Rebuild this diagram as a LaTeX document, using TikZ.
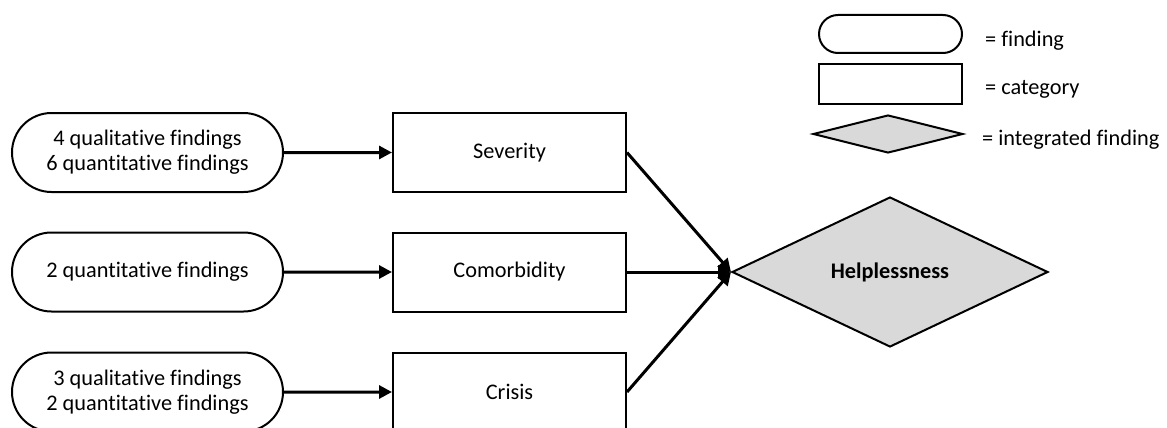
\documentclass[tikz,border=0pt]{standalone}
\usepackage{fontspec}
\setmainfont{Carlito}[Ligatures=NoCommon]
\usetikzlibrary{shapes.misc,shapes.geometric,arrows.meta}
\definecolor{intgrey}{HTML}{D9D9D9}
\begin{document}
\begin{tikzpicture}[x=1pt,y=-1pt,
  every node/.style={font=\fontsize{22.3}{25}\selectfont},
  finding/.style={draw,line width=2pt,rounded rectangle,minimum width=271pt,
    minimum height=79pt,inner sep=0pt,align=center},
  category/.style={draw,line width=2pt,rectangle,minimum width=233pt,
    minimum height=79pt,inner sep=0pt},
  integrated/.style={draw,line width=2pt,diamond,fill=intgrey,inner sep=0pt,
    aspect=2.1},
  flow/.style={line width=3pt,-{Triangle[length=13pt,width=13pt]}},
  legendtext/.style={anchor=base west,inner sep=0pt}
]
\useasboundingbox (0,0) rectangle (1167,428);

% findings
\node[finding] (f1) at (147.5,152.5) {4 qualitative findings\\6 quantitative findings};
\node[finding] (f2) at (147.5,272) {2 quantitative findings};
\node[finding] (f3) at (147.5,392) {3 qualitative findings\\2 quantitative findings};

% categories
\node[category] (c1) at (509.5,152.5) {Severity};
\node[category] (c2) at (509.5,272) {Comorbidity};
\node[category] (c3) at (509.5,392) {Crisis};

% integrated finding
\node[integrated,minimum width=316pt,minimum height=150pt] (h) at (890,272)
  {\bfseries Helplessness};

% connectors
\draw[flow] (f1) -- (c1);
\draw[flow] (f2) -- (c2);
\draw[flow] (f3) -- (c3);
\draw[flow] (c1.east) -- (h.west);
\draw[flow] (c2.east) -- (h.west);
\draw[flow] (c3.east) -- (h.west);

% legend
\node[draw,line width=2pt,rounded rectangle,minimum width=143pt,minimum height=38pt,
  inner sep=0pt] (lf) at (890.5,34) {};
\node[draw,line width=2pt,rectangle,minimum width=143pt,minimum height=39pt,
  inner sep=0pt] (lc) at (890.5,84) {};
\node[integrated,minimum width=150pt,minimum height=38pt,aspect=3.9] (li) at (888,134) {};
\node[legendtext] (tf) at (985,47) {= finding};
\node[legendtext] (tc) at (985,94) {= category};
\node[legendtext] (ti) at (982,145) {= integrated finding};
\end{tikzpicture}
\end{document}
